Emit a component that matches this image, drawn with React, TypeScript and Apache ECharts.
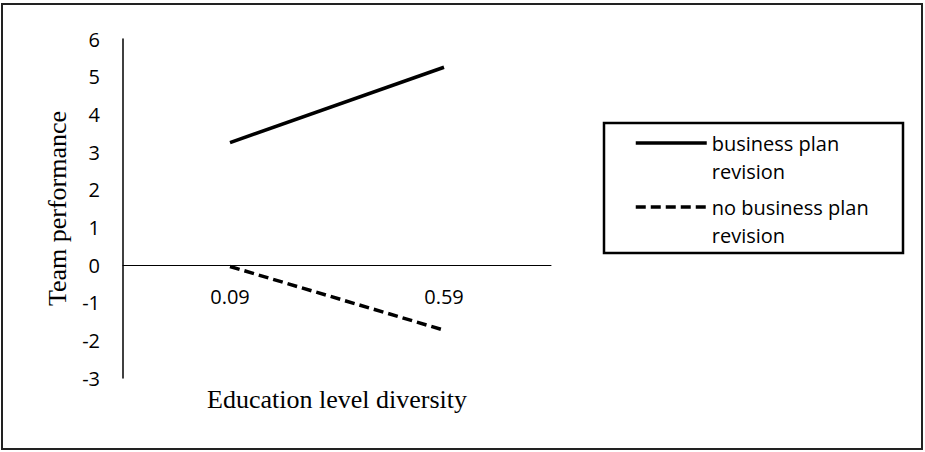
import React, { useEffect, useRef } from 'react';
import * as echarts from 'echarts';

const categories = ['0.09', '0.59'];
const businessPlanRevision = [3.25, 5.25];
const noBusinessPlanRevision = [-0.04, -1.73];
const seriesNames = ['business plan revision', 'no business plan revision'];
const yMin = -3;
const yMax = 6;
const yInterval = 1;
const xAxisTitle = 'Education level diversity';
const yAxisTitle = 'Team performance';

const SANS = '"Open Sans", "Noto Sans", sans-serif';
const SERIF = '"Liberation Serif", "DejaVu Serif", serif';

export default function App() {
  const ref = useRef<HTMLDivElement>(null);
  useEffect(() => {
    if (!ref.current) return;
    const chart = echarts.init(ref.current, null, { renderer: 'svg' });
    chart.setOption({
      animation: false,
      backgroundColor: '#fff',
      grid: { left: 123, right: 374, top: 39, bottom: 74, containLabel: false, outerBoundsMode: 'none' },
      xAxis: {
        type: 'category',
        data: categories,
        boundaryGap: true,
        axisLine: { show: true, onZero: true, lineStyle: { color: '#000', width: 1 } },
        axisTick: { show: false },
        splitLine: { show: false },
        axisLabel: { margin: -92, fontSize: 20, fontFamily: SANS, color: '#000' },
        name: xAxisTitle,
        nameLocation: 'middle',
        nameGap: 8,
        nameTextStyle: { fontFamily: SERIF, fontSize: 26, color: '#000' },
      },
      yAxis: {
        type: 'value',
        min: yMin,
        max: yMax,
        interval: yInterval,
        axisLine: { show: true, onZero: false, lineStyle: { color: '#000', width: 1.5 } },
        axisTick: { show: false },
        splitLine: { show: false },
        axisLabel: { margin: 23, fontSize: 20, fontFamily: SANS, color: '#000' },
        name: yAxisTitle,
        nameLocation: 'middle',
        nameGap: 53,
        nameTextStyle: { fontFamily: SERIF, fontSize: 26, color: '#000' },
      },
      legend: {
        orient: 'vertical',
        left: 634,
        top: 101,
        padding: 0,
        itemWidth: 71,
        itemHeight: 4,
        itemGap: -20,
        data: seriesNames,
        formatter: (name: string) => '\n' + name.replace(' plan revision', ' plan\nrevision'),
        lineStyle: { width: 3.5 },
        itemStyle: { color: 'rgba(0,0,0,0)', borderWidth: 0 },
        textStyle: {
          fontFamily: SANS,
          fontSize: 20,
          color: '#000',
          lineHeight: 28,
        },
      },
      graphic: [
        {
          type: 'rect',
          shape: { x: 2, y: 4, width: 920, height: 445 },
          style: { fill: 'none', stroke: '#222', lineWidth: 2 },
          silent: true,
        },
        {
          type: 'rect',
          shape: { x: 604, y: 123, width: 299, height: 130 },
          style: { fill: 'none', stroke: '#000', lineWidth: 2.5 },
          silent: true,
        },
      ],
      series: [
        {
          name: seriesNames[0],
          type: 'line',
          data: businessPlanRevision,
          symbol: 'none',
          lineStyle: { color: '#000', width: 3.5, type: 'solid' },
          itemStyle: { color: '#000' },
        },
        {
          name: seriesNames[1],
          type: 'line',
          data: noBusinessPlanRevision,
          symbol: 'none',
          lineStyle: { color: '#000', width: 3.5, type: [10, 5] },
          itemStyle: { color: '#000' },
        },
      ],
    });
    return () => chart.dispose();
  }, []);
  return (
    <div
      ref={ref}
      style={{ position: 'fixed', left: 0, top: 0, width: 925, height: 452 }}
    />
  );
}
